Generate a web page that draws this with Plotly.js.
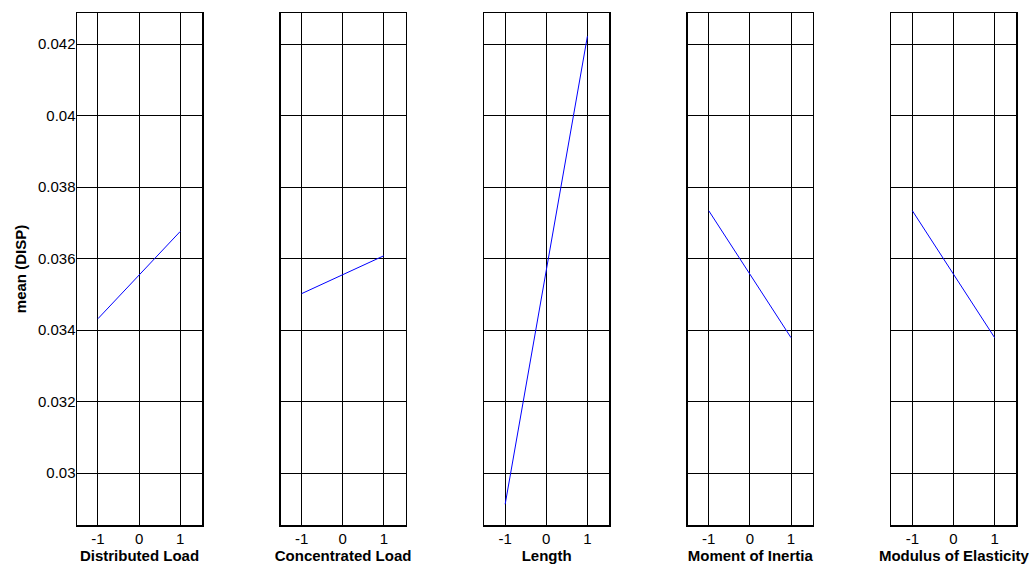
<!DOCTYPE html>
<html><head><meta charset="utf-8">
<script src="https://cdn.plot.ly/plotly-3.0.1.min.js"></script>
<style>html,body{margin:0;padding:0;background:#fff;}</style>
</head><body><div id="chart" style="width:1033px;height:568px;"></div>
<script>
const levels = [-1, 1];
const factors = ["Distributed Load", "Concentrated Load", "Length", "Moment of Inertia", "Modulus of Elasticity"];
const distributedLoad = [0.03432, 0.03676];
const concentratedLoad = [0.03502, 0.03608];
const lengthVals = [0.02913, 0.04222];
const momentOfInertia = [0.03734, 0.03379];
const modulusOfElasticity = [0.03734, 0.03379];
const series = [distributedLoad, concentratedLoad, lengthVals, momentOfInertia, modulusOfElasticity];
const yTicks = [0.03, 0.032, 0.034, 0.036, 0.038, 0.04, 0.042];
const yTickText = ["0.03", "0.032", "0.034", "0.036", "0.038", "0.04", "0.042"];
const xTicks = [-1, 0, 1];

const font = "Liberation Sans, Arial, sans-serif";
const totalW = 941, panelW = 125, step = 203.6;
const traces = [];
const layout = {
  width: 1033, height: 568,
  margin: {l: 77, r: 15, t: 13, b: 43},
  paper_bgcolor: "#fff", plot_bgcolor: "#fff",
  showlegend: false,
  font: {family: font, size: 15, color: "#000"}
};
series.forEach((vals, i) => {
  const xa = i === 0 ? "x" : "x" + (i + 1);
  const ya = i === 0 ? "y" : "y" + (i + 1);
  traces.push({x: levels, y: vals, xaxis: xa, yaxis: ya, type: "scatter", mode: "lines",
    line: {color: "#0000ff", width: 1}, hoverinfo: "skip"});
  const left = (i * step) / totalW;
  const right = (i * step + panelW) / totalW;
  const xKey = i === 0 ? "xaxis" : "xaxis" + (i + 1);
  const yKey = i === 0 ? "yaxis" : "yaxis" + (i + 1);
  layout[xKey] = {
    domain: [left, Math.min(right, 1)], anchor: ya,
    range: [-1.51, 1.53], tickvals: xTicks, ticktext: ["-1", "0", "1"],
    showgrid: true, gridcolor: "#000", gridwidth: 1, zeroline: false,
    showline: true, linecolor: "#000", linewidth: 1.5, mirror: "ticks",
    ticks: "inside", ticklen: 4, tickcolor: "#000",
    ticklabelstandoff: -1,
    tickfont: {family: font, size: 15, color: "#000"},
    title: {text: factors[i], font: {family: font, size: 15, color: "#000", weight: "bold"}, standoff: 4},
    fixedrange: true
  };
  layout[yKey] = {
    domain: [0, 1], anchor: xa,
    range: [0.02855, 0.04287], tickvals: yTicks, ticktext: yTickText,
    showticklabels: i === 0,
    showgrid: true, gridcolor: "#000", gridwidth: 1, zeroline: false,
    showline: true, linecolor: "#000", linewidth: 1.5, mirror: "ticks",
    ticks: "inside", ticklen: 4, tickcolor: "#000",
    ticklabelstandoff: -3,
    tickfont: {family: font, size: 15, color: "#000"},
    fixedrange: true
  };
  if (i === 0) {
    layout[yKey].title = {text: "mean (DISP)", font: {family: font, size: 15, color: "#000", weight: "bold"}, standoff: 7};
  }
});
Plotly.newPlot("chart", traces, layout, {displayModeBar: false, staticPlot: true});
</script>
</body></html>
